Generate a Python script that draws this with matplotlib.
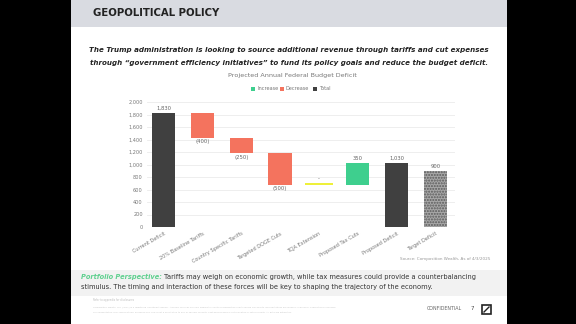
import matplotlib.pyplot as plt
from matplotlib.patches import Rectangle

W, H = 576, 324

categories = ["Current Deficit", "20% Baseline Tariffs", "Country Specific Tariffs",
              "Targeted DOGE Cuts", "TCJA Extension", "Proposed Tax Cuts",
              "Proposed Deficit", "Target Deficit"]
# bottom and top of each bar
bar_bottoms = [0, 1430, 1180, 680, 675, 680, 0, 0]
bar_tops = [1830, 1830, 1430, 1180, 705, 1030, 1030, 900]
bar_kinds = ["total", "decrease", "decrease", "decrease", "flat", "increase", "total", "target"]
bar_labels = ["1,830", "(400)", "(250)", "(500)", "-", "350", "1,030", "900"]
y_ticks = [0, 200, 400, 600, 800, 1000, 1200, 1400, 1600, 1800, 2000]

colors = {"total": "#404040", "decrease": "#f4735e", "increase": "#3ecf8e",
          "flat": "#eef03a", "target": "#a0a0a0"}


def fx(x):
    return x / W


def fy(y):
    return 1 - y / H


fig = plt.figure(figsize=(5.76, 3.24), dpi=100)
fig.patch.set_facecolor("black")

# slide background
fig.add_artist(Rectangle((fx(71), 0), fx(507) - fx(71), 1, transform=fig.transFigure,
                         facecolor="white", edgecolor="none", zorder=0))
fig.add_artist(Rectangle((fx(71), fy(27)), fx(507) - fx(71), 27 / H, transform=fig.transFigure,
                         facecolor="#d9dbe1", edgecolor="none", zorder=0))
fig.text(fx(93), fy(13), "GEOPOLITICAL POLICY", fontsize=7.3, fontweight="bold",
         color="#222222", va="center", ha="left")
subtitle = ["The Trump administration is looking to source additional revenue through tariffs and cut expenses",
            "through \u201cgovernment efficiency initiatives\u201d to fund its policy goals and reduce the budget deficit."]
for y, line in zip([49.5, 62.5], subtitle):
    fig.text(fx(289), fy(y), line, fontsize=5.1, fontweight="bold", fontstyle="italic",
             color="#222222", ha="center", va="center")

# chart title and legend
fig.text(fx(292), fy(75), "Projected Annual Federal Budget Deficit", fontsize=4.6,
         color="#777777", ha="center", va="center")
for x, name, key in [(251, "Increase", "increase"), (280, "Decrease", "decrease"), (313, "Total", "total")]:
    fig.add_artist(Rectangle((fx(x), fy(91)), 4 / W, 4 / H, transform=fig.transFigure,
                             facecolor=colors[key], edgecolor="none"))
    fig.text(fx(x + 6), fy(89), name, fontsize=3.6, color="#777777", ha="left", va="center")

ax = fig.add_axes([fx(147), fy(227), fx(455) - fx(147), (227 - 102) / H])
ax.set_facecolor("white")
xs = list(range(len(categories)))
heights = [t - b for t, b in zip(bar_tops, bar_bottoms)]
for i in xs:
    kind = bar_kinds[i]
    if kind == "target":
        ax.bar(i, heights[i], bottom=bar_bottoms[i], width=0.6, color="#a8a8a8",
               edgecolor="#5a5a5a", hatch="......", linewidth=0, zorder=3)
    else:
        ax.bar(i, heights[i], bottom=bar_bottoms[i], width=0.6 if kind != "flat" else 0.7,
               color=colors[kind], linewidth=0, zorder=3)
    if kind == "decrease":
        ax.text(i, bar_bottoms[i] - 30, bar_labels[i], ha="center", va="top",
                fontsize=3.8, color="#666666")
    else:
        ax.text(i, bar_tops[i] + 25, bar_labels[i], ha="center", va="bottom",
                fontsize=3.8, color="#666666")

ax.set_xlim(-0.425, 7.5)
ax.set_ylim(0, 2000)
ax.set_yticks(y_ticks)
ax.set_yticklabels([f"{v:,}" for v in y_ticks])
ax.set_xticks(xs)
ax.set_xticklabels(categories, rotation=30, ha="right", rotation_mode="anchor")
ax.tick_params(axis="both", length=0, labelsize=3.6, labelcolor="#777777", pad=3)
ax.grid(axis="y", color="#ebebeb", linewidth=0.6, zorder=0)
for s in ax.spines.values():
    s.set_visible(False)

fig.text(fx(490), fy(259), "Source: Composition Wealth, As of 4/3/2025", fontsize=3,
         color="#999999", ha="right", va="center")

# portfolio perspective band
fig.add_artist(Rectangle((fx(71), fy(296)), fx(507) - fx(71), 26 / H, transform=fig.transFigure,
                         facecolor="#f2f2f2", edgecolor="none", zorder=0))
pp = fig.text(fx(81), fy(277), "Portfolio Perspective:", fontsize=4.75, fontweight="bold",
              fontstyle="italic", color="#5fd08f", ha="left", va="center")
fig.canvas.draw()
pp_right = pp.get_window_extent().x1
fig.text(pp_right / W + 2 / W, fy(277),
         "Tariffs may weigh on economic growth, while tax measures could provide a counterbalancing",
         fontsize=4.75, color="#333333", ha="left", va="center")
fig.text(fx(81), fy(287), "stimulus. The timing and interaction of these forces will be key to shaping the trajectory of the economy.",
         fontsize=4.75, color="#333333", ha="left", va="center")

# footer
fig.text(fx(93), fy(300), "Refer to appendix for disclosures", fontsize=1.8, color="#bbbbbb", va="center")
fig.text(fx(93), fy(307), "Composition Wealth, LLC (\"CW\") is a registered investment adviser. Advisory services are only offered to clients or prospective clients where CW and its representatives are properly licensed or exempt from licensure.",
         fontsize=1.6, color="#c4c4c4", va="center")
fig.text(fx(93), fy(312), "This presentation is for informational purposes only and is not a solicitation to buy or sell any security. Past performance is not indicative of future results. All data are estimates.",
         fontsize=1.6, color="#c4c4c4", va="center")
fig.text(fx(427), fy(309), "CONFIDENTIAL", fontsize=3.4, color="#666666", va="center")
fig.text(fx(471), fy(309), "7", fontsize=4, color="#444444", va="center")
fig.add_artist(Rectangle((fx(482), fy(314)), 9 / W, 9 / H, transform=fig.transFigure,
                         facecolor="white", edgecolor="#222222", linewidth=1.2))
fig.add_artist(plt.Line2D([fx(484), fx(489)], [fy(312), fy(307)], transform=fig.transFigure,
                          color="#222222", linewidth=1.0))

fig.savefig("out.png", dpi=100, facecolor=fig.get_facecolor())
